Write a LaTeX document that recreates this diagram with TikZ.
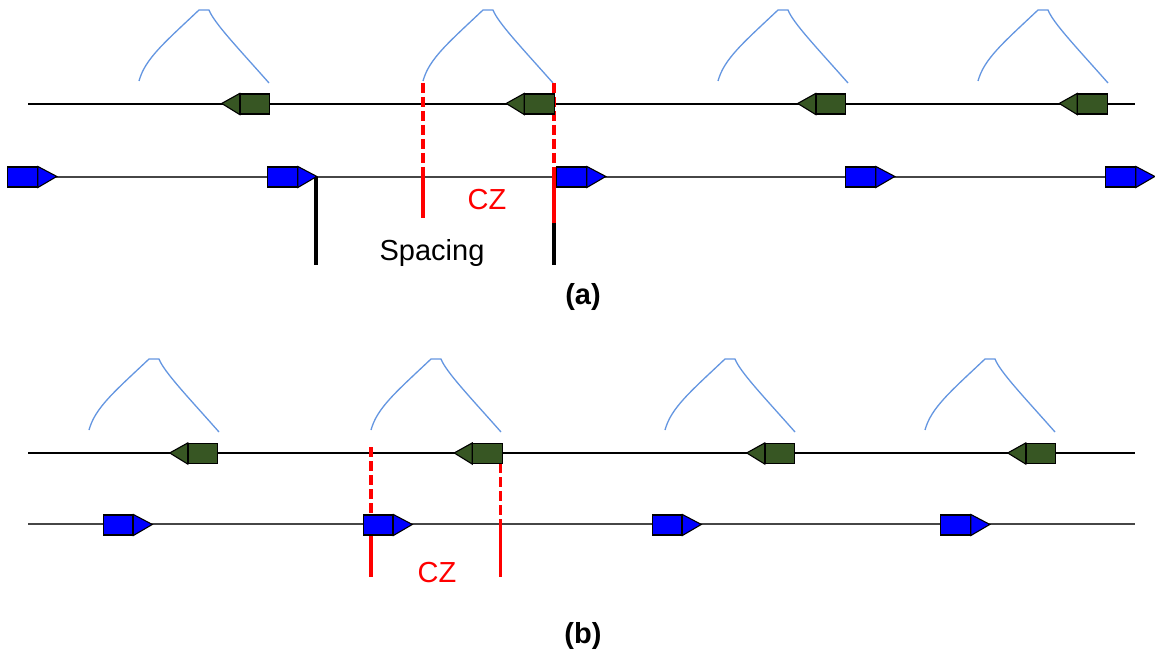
\documentclass[tikz,border=0pt]{standalone}
\usepackage{fontspec}
\setmainfont{Liberation Sans}
\definecolor{genegreen}{RGB}{55,86,35}
\definecolor{geneblue}{RGB}{0,0,255}
\definecolor{peakblue}{RGB}{100,150,225}
\definecolor{czred}{RGB}{255,0,0}
\definecolor{linegray}{RGB}{70,70,70}
\tikzset{
  gbox/.style={rectangle, draw=black, fill=genegreen, line width=1.1pt, minimum width=29.5pt, minimum height=20pt, inner sep=0pt},
  bbox/.style={rectangle, draw=black, fill=geneblue, line width=1.1pt, minimum width=29.5pt, minimum height=20pt, inner sep=0pt},
  gtri/.style={draw=black, fill=genegreen, line width=1.1pt, line join=miter},
  btri/.style={draw=black, fill=geneblue, line width=1.1pt, line join=miter},
  backbone/.style={draw=black, line width=1.2pt},
  backbone2/.style={draw=linegray, line width=1.4pt},
  peakline/.style={draw=peakblue, line width=1.3pt},
  czdash/.style={draw=czred, line width=3.8pt, dash pattern=on 10pt off 4pt},
  czsolid/.style={draw=czred, line width=3.8pt},
  spacingline/.style={draw=black, line width=3.4pt},
  lbl/.style={font=\fontsize{29}{34}\selectfont, inner sep=0pt},
  peakshape/.pic={\draw[peakline] (0,0) .. controls (6,-22) and (25,-38) .. (60,-71) -- (70,-71) .. controls (75,-58) and (100,-32) .. (130,2);}
}
\newcommand{\greengene}[3]{%
  \node[gbox] (#1) at (#2,#3) {};
  \path[gtri] (#1.north west) -- ++(-18,10) coordinate (#1tip) -- (#1.south west) -- cycle;}
\newcommand{\bluegene}[3]{%
  \node[bbox] (#1) at (#2,#3) {};
  \path[btri] (#1.north east) -- ++(19,10) coordinate (#1tip) -- (#1.south east) -- cycle;}
\begin{document}
\begin{tikzpicture}[x=1pt,y=-1pt]
\useasboundingbox[fill=white] (0,0) rectangle (1155,655);

% ---------------- panel (a) ----------------
\pic at (139,81) {peakshape};
\pic at (423,81) {peakshape};
\pic at (718,81) {peakshape};
\pic at (978,81) {peakshape};

\coordinate (aTopL) at (28,104);
\coordinate (aTopR) at (1135,104);
\coordinate (aBotL) at (50,177);
\coordinate (aBotR) at (1110,177);
\draw[backbone] (aTopL) -- (aTopR);
\draw[backbone2] (aBotL) -- (aBotR);

% CZ lines (a)
\coordinate (aR1t) at (423,83);
\coordinate (aR1m) at (423,177);
\coordinate (aR1b) at (423,218);
\coordinate (aR2t) at (554,83);
\coordinate (aR2m) at (554,177);
\coordinate (aR2b) at (554,223);
\coordinate (aK2b) at (554,265);
\coordinate (aK1t) at (316,177);
\coordinate (aK1b) at (316,265);
\draw[czdash] (aR1t) -- (aR1m);
\draw[czsolid] (aR1m) -- (aR1b);
\draw[czdash] (aR2t) -- (aR2m);
\draw[czsolid] (aR2m) -- (aR2b);
\draw[spacingline] (aR2b) -- (aK2b);
\draw[spacingline] (aK1t) -- (aK1b);

\greengene{ag1}{255}{104}
\greengene{ag2}{539.5}{104}
\greengene{ag3}{831}{104}
\greengene{ag4}{1092.5}{104}

\bluegene{ab1}{22.5}{177}
\bluegene{ab2}{282.5}{177}
\bluegene{ab3}{571.5}{177}
\bluegene{ab4}{860.5}{177}
\bluegene{ab5}{1120.5}{177}

\node[lbl, text=czred, anchor=base] (aCZ) at (487,209) {CZ};
\node[lbl, anchor=base] (aSp) at (432,260) {Spacing};
\node[lbl, font=\fontsize{29}{34}\selectfont\bfseries] (alab) at (583,297) {(a)};

% ---------------- panel (b) ----------------
\pic at (89,430) {peakshape};
\pic at (371,430) {peakshape};
\pic at (665,430) {peakshape};
\pic at (925,430) {peakshape};

\coordinate (bTopL) at (28,453);
\coordinate (bTopR) at (1135,453);
\coordinate (bBotL) at (28,524);
\coordinate (bBotR) at (1135,524);
\draw[backbone] (bTopL) -- (bTopR);
\draw[backbone2] (bBotL) -- (bBotR);

\coordinate (bR1t) at (371,447);
\coordinate (bR1m) at (371,520);
\coordinate (bR1b) at (371,577);
\coordinate (bR2t) at (500.5,463);
\coordinate (bR2m) at (500.5,524);
\coordinate (bR2b) at (500.5,577);
\draw[czdash] (bR1t) -- (bR1m);
\draw[czsolid] (bR1m) -- (bR1b);
\draw[czdash] (bR2t) -- (bR2m);
\draw[czsolid] (bR2m) -- (bR2b);

\greengene{bg1}{203}{453.5}
\greengene{bg2}{487.5}{453.5}
\greengene{bg3}{780}{453.5}
\greengene{bg4}{1041}{453.5}

\bluegene{bb1}{118}{525}
\bluegene{bb2}{378}{525}
\bluegene{bb3}{667}{525}
\bluegene{bb4}{955.5}{525}

\node[lbl, text=czred, anchor=base] (bCZ) at (437,582) {CZ};
\node[lbl, font=\fontsize{29}{34}\selectfont\bfseries] (blab) at (583,636) {(b)};
\end{tikzpicture}
\end{document}
